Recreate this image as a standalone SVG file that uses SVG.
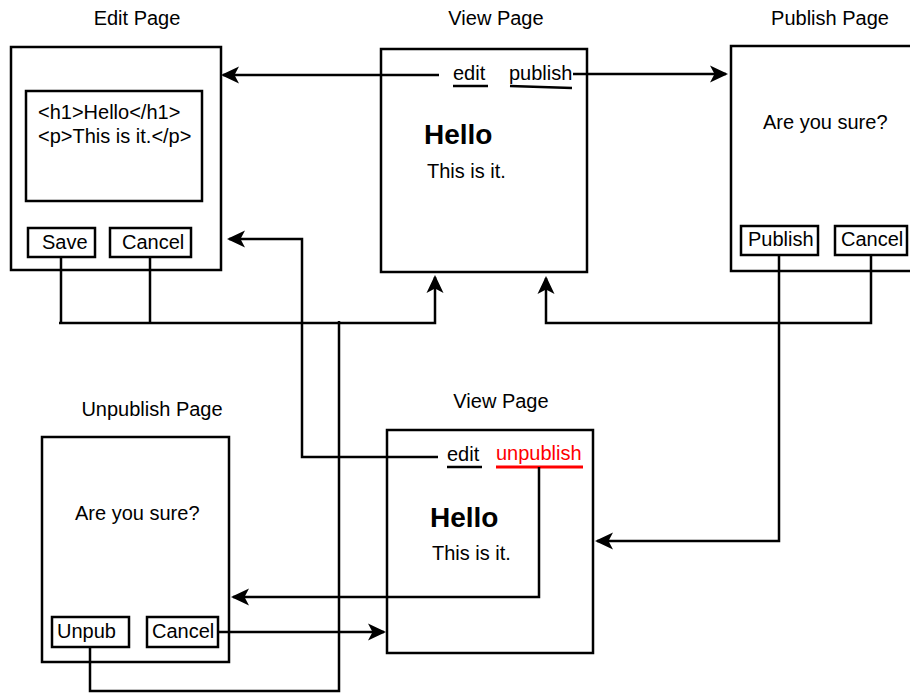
<svg xmlns="http://www.w3.org/2000/svg" width="910" height="693" viewBox="0 0 910 693">
<style>
text{font-family:"Liberation Sans",Arial,sans-serif;font-size:20px;fill:#000}
.box{fill:#fff;stroke:#000;stroke-width:2.5}
.btn{fill:#fff;stroke:#000;stroke-width:2.5}
.ta{fill:#fff;stroke:#000;stroke-width:2.5}
.ul{stroke:#000;stroke-width:2.5;fill:none}
.h{font-size:28px;font-weight:bold}
.red{fill:#ff0000}
.c{fill:none;stroke:#000;stroke-width:2.5}
.title{text-anchor:middle}
</style>
<defs>
<marker id="arr" viewBox="-18 -9 18 18" refX="-2" refY="0" markerWidth="18" markerHeight="18" markerUnits="userSpaceOnUse" orient="auto">
<path d="M0,0 L-18,-8.5 L-13.5,0 L-18,8.5 Z" fill="#000"/>
</marker>
</defs>
<rect width="910" height="693" fill="#fff"/>

<g id="edit-page">
<text class="title" x="137" y="25">Edit Page</text>
<rect class="box" x="11" y="47" width="210" height="223"/>
<rect class="ta" x="26" y="91" width="176" height="110"/>
<text x="38" y="119">&lt;h1&gt;Hello&lt;/h1&gt;</text>
<text x="38" y="143">&lt;p&gt;This is it.&lt;/p&gt;</text>
<rect class="btn" x="28" y="228" width="67" height="29"/>
<text x="42" y="249">Save</text>
<rect class="btn" x="110" y="228" width="81" height="29"/>
<text x="122" y="249">Cancel</text>
</g>

<g id="view-page-top">
<text class="title" x="496" y="25">View Page</text>
<rect class="box" x="381" y="49" width="206" height="223"/>
<text x="453" y="80">edit</text>
<line class="ul" x1="453" y1="86" x2="488" y2="86"/>
<text x="509" y="80">publish</text>
<line class="ul" x1="510" y1="86" x2="572" y2="88"/>
<text class="h" x="424" y="144">Hello</text>
<text x="427" y="178">This is it.</text>
</g>

<g id="publish-page">
<text class="title" x="830" y="25">Publish Page</text>
<rect class="box" x="731" y="46" width="210" height="225"/>
<text x="763" y="129">Are you sure?</text>
<rect class="btn" x="741" y="226" width="77" height="29"/>
<text x="748" y="246">Publish</text>
<rect class="btn" x="835" y="226" width="72" height="29"/>
<text x="841" y="246">Cancel</text>
</g>

<g id="view-page-bottom">
<text class="title" x="501" y="408">View Page</text>
<rect class="box" x="387" y="430" width="206" height="223"/>
<text x="447" y="461">edit</text>
<line class="ul" x1="447" y1="467" x2="482" y2="467"/>
<text class="red" x="496" y="460">unpublish</text>
<line x1="496" y1="467" x2="583" y2="467" stroke="#ff0000" stroke-width="3"/>
<text class="h" x="430" y="527">Hello</text>
<text x="432" y="560">This is it.</text>
</g>

<g id="unpublish-page">
<text class="title" x="152" y="416">Unpublish Page</text>
<rect class="box" x="42" y="437" width="187" height="225"/>
<text x="75" y="520">Are you sure?</text>
<rect class="btn" x="52" y="617" width="77" height="30"/>
<text x="57" y="638">Unpub</text>
<rect class="btn" x="147" y="617" width="71" height="30"/>
<text x="152" y="638">Cancel</text>
</g>

<g id="connectors">
<path class="c" d="M439,75 L223,75" marker-end="url(#arr)"/>
<path class="c" d="M573,74 L726,74" marker-end="url(#arr)"/>
<path class="c" d="M61,257 L61,323"/>
<path class="c" d="M150,257 L150,323"/>
<path class="c" d="M59,323 L435,323 L435,277" marker-end="url(#arr)"/>
<path class="c" d="M871,255 L871,323 L546,323 L546,278" marker-end="url(#arr)"/>
<path class="c" d="M779,255 L779,541 L597,541" marker-end="url(#arr)"/>
<path class="c" d="M438,457 L302,457 L302,239 L229,239" marker-end="url(#arr)"/>
<path class="c" d="M90,647 L90,691 L339,691 L339,321"/>
<path class="c" d="M539,467 L539,597 L233,597" marker-end="url(#arr)"/>
<path class="c" d="M218,632 L384,632" marker-end="url(#arr)"/>
</g>
</svg>
